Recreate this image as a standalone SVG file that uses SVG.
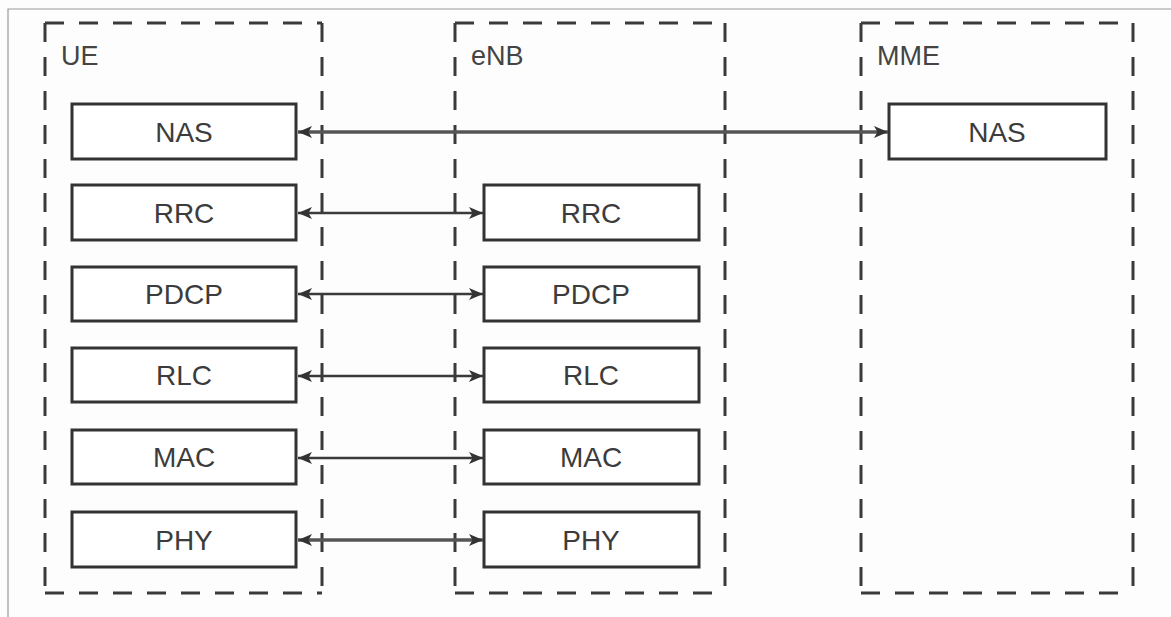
<svg xmlns="http://www.w3.org/2000/svg" width="1171" height="617" viewBox="0 0 1171 617">
  <defs>
    <style>
      .frame { fill: none; stroke: #9a9a9a; stroke-width: 1.2; }
      .dash { fill: none; stroke: #3a3a3a; stroke-width: 3; stroke-dasharray: 19 15; }
      .box { fill: #ffffff; stroke: #333333; stroke-width: 3; }
      .lbl { font-family: "Liberation Sans", Arial, sans-serif; font-size: 27px; fill: #444444; }
      .txt { font-family: "Liberation Sans", Arial, sans-serif; font-size: 28px; fill: #3c3c3c; text-anchor: middle; }
      .conn { fill: none; stroke: #3a3a3a; stroke-width: 2.5; marker-start: url(#ah); marker-end: url(#ah); }
      .conn.thick { stroke: #555555; stroke-width: 3.5; }
    </style>
    <marker id="ah" viewBox="0 0 14 14" refX="14" refY="7" markerWidth="14" markerHeight="14" markerUnits="userSpaceOnUse" orient="auto-start-reverse">
      <path d="M0,1 L14,7 L0,13 L3.5,7 Z" fill="#333333"/>
    </marker>
  </defs>
  <rect x="0" y="0" width="1171" height="617" fill="#fdfdfd"/>
  <path class="frame" d="M8,617 V9 H1171"/>

  <g id="ue">
    <path class="dash" d="M45,23 H322"/>
    <path class="dash" d="M322,23 V593"/>
    <path class="dash" d="M45,23 V593"/>
    <path class="dash" d="M45,593 H322"/>
    <text class="lbl" x="61" y="65">UE</text>
  </g>
  <g id="enb">
    <path class="dash" d="M455,23 H725"/>
    <path class="dash" d="M725,23 V593"/>
    <path class="dash" d="M455,23 V593"/>
    <path class="dash" d="M455,593 H725"/>
    <text class="lbl" x="471" y="65">eNB</text>
  </g>
  <g id="mme">
    <path class="dash" d="M861,23 H1133"/>
    <path class="dash" d="M1133,23 V593"/>
    <path class="dash" d="M861,23 V593"/>
    <path class="dash" d="M861,593 H1133"/>
    <text class="lbl" x="877" y="65">MME</text>
  </g>

  <g id="ue-nas"><rect class="box" x="72" y="104" width="224" height="55"/><text class="txt" x="184" y="142">NAS</text></g>
  <g id="ue-rrc"><rect class="box" x="72" y="185" width="224" height="55"/><text class="txt" x="184" y="223">RRC</text></g>
  <g id="ue-pdcp"><rect class="box" x="72" y="267" width="224" height="54"/><text class="txt" x="184" y="304">PDCP</text></g>
  <g id="ue-rlc"><rect class="box" x="72" y="348" width="224" height="54"/><text class="txt" x="184" y="385">RLC</text></g>
  <g id="ue-mac"><rect class="box" x="72" y="430" width="224" height="54"/><text class="txt" x="184" y="467">MAC</text></g>
  <g id="ue-phy"><rect class="box" x="72" y="512" width="224" height="55"/><text class="txt" x="184" y="550">PHY</text></g>

  <g id="enb-rrc"><rect class="box" x="484" y="185" width="215" height="55"/><text class="txt" x="591" y="223">RRC</text></g>
  <g id="enb-pdcp"><rect class="box" x="484" y="267" width="215" height="54"/><text class="txt" x="591" y="304">PDCP</text></g>
  <g id="enb-rlc"><rect class="box" x="484" y="348" width="215" height="54"/><text class="txt" x="591" y="385">RLC</text></g>
  <g id="enb-mac"><rect class="box" x="484" y="430" width="215" height="54"/><text class="txt" x="591" y="467">MAC</text></g>
  <g id="enb-phy"><rect class="box" x="484" y="512" width="215" height="55"/><text class="txt" x="591" y="550">PHY</text></g>

  <g id="mme-nas"><rect class="box" x="889" y="104" width="217" height="55"/><text class="txt" x="997" y="142">NAS</text></g>

  <g id="connectors">
    <path class="conn thick" d="M298,132 H888"/>
    <path class="conn" d="M298,213 H483"/>
    <path class="conn" d="M298,294 H483"/>
    <path class="conn" d="M298,376 H483"/>
    <path class="conn" d="M298,458 H483"/>
    <path class="conn thick" d="M298,540 H483"/>
  </g>
</svg>
